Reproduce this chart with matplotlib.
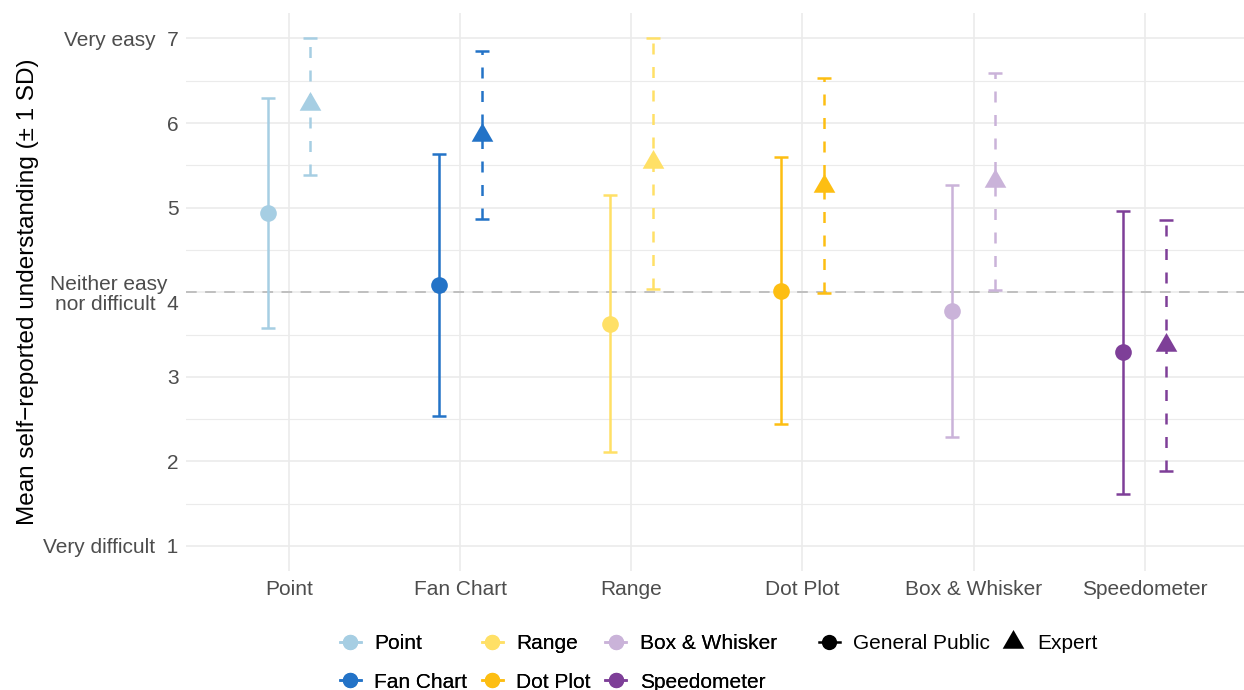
import numpy as np
import matplotlib
matplotlib.use("Agg")
import matplotlib.pyplot as plt
from matplotlib.lines import Line2D

# Mean self-reported understanding (1-7 scale) and SD per visualisation type
categories = ["Point", "Fan Chart", "Range", "Dot Plot", "Box & Whisker", "Speedometer"]
public_mean = [4.94, 4.09, 3.63, 4.02, 3.78, 3.29]
public_sd = [1.36, 1.55, 1.52, 1.58, 1.49, 1.67]
expert_mean = [6.23, 5.86, 5.54, 5.26, 5.31, 3.37]
expert_sd = [0.84, 0.99, 1.50, 1.27, 1.28, 1.48]
colors = ["#A6CEE3", "#2373C7", "#FFE066", "#FDBE12", "#CAB3D9", "#7E3F98"]
groups = ["General Public", "Expert"]

y_ticks = [1, 2, 3, 4, 5, 6, 7]
y_labels = ["Very difficult  1", "2", "3", "Neither easy  \nnor difficult  4", "5", "6", "Very easy  7"]

plt.rcParams["font.family"] = ["Liberation Sans", "DejaVu Sans"]

fig = plt.figure(figsize=(12.44, 6.90), dpi=100)
ax = fig.add_axes([0.1498, 0.172, 0.853, 0.809])

x = np.arange(1, len(categories) + 1)
dodge = 0.125
lw = 1.8
dash = (0, (4.4, 5.0))

# equilateral triangle centred on its centroid
tri = [(0, 0.577), (-0.5, -0.2887), (0.5, -0.2887), (0, 0.577)]


def clipped_err(mean, sd):
    mean = np.asarray(mean)
    sd = np.asarray(sd)
    upper = np.minimum(mean + sd, 7) - mean
    lower = mean - np.maximum(mean - sd, 1)
    return np.vstack([lower, upper])


pub_err = clipped_err(public_mean, public_sd)
exp_err = clipped_err(expert_mean, expert_sd)

for i, c in enumerate(colors):
    xp = x[i] - dodge
    xe = x[i] + dodge
    ax.errorbar([xp], [public_mean[i]], yerr=pub_err[:, i:i + 1], fmt="none",
                ecolor=c, elinewidth=lw, capsize=4.7, capthick=lw, zorder=3)
    ax.plot([xp], [public_mean[i]], marker="o", ms=12, color=c, mew=0,
            linestyle="None", zorder=4)
    eb = ax.errorbar([xe], [expert_mean[i]], yerr=exp_err[:, i:i + 1], fmt="none",
                     ecolor=c, elinewidth=lw, capsize=4.7, capthick=lw, zorder=3)
    eb[2][0].set_linestyle(dash)
    ax.plot([xe], [expert_mean[i]], marker=tri, ms=18, color=c, mew=0,
            linestyle="None", zorder=4)

# reference line at the neutral midpoint
ax.axhline(4, color="#B3B3B3", lw=1.1, linestyle=(0, (7, 5.5)), zorder=2)

ax.set_xlim(0.4, 6.6)
ax.set_ylim(0.7, 7.3)
ax.set_xticks(x)
ax.set_xticklabels(categories)
ax.set_yticks(y_ticks)
ax.set_yticklabels(y_labels, linespacing=1.05, multialignment="right")
ax.set_yticks(np.arange(1.5, 7, 1), minor=True)

ax.grid(which="major", color="#EBEBEB", lw=1.2, zorder=0)
ax.grid(which="minor", axis="y", color="#EBEBEB", lw=0.8, zorder=0)
ax.set_axisbelow(True)
for s in ax.spines.values():
    s.set_visible(False)
ax.tick_params(which="both", length=0)
ax.tick_params(axis="y", labelsize=15, labelcolor="#4D4D4D", pad=5.5)
ax.tick_params(axis="x", labelsize=15, labelcolor="#4D4D4D", pad=6)

ax.set_ylabel("Mean self\u2212reported understanding (\u00b1 1 SD)", fontsize=17.5,
              color="black", labelpad=3)

# colour legend (type of visualisation)
color_handles = [Line2D([0], [0], color=c, lw=lw, marker="o", ms=11, mew=0)
                 for c in colors]
leg1 = fig.legend(color_handles, categories, loc="upper left",
                  bbox_to_anchor=(340 / 1244, 1 - 634 / 690), ncol=3, frameon=False,
                  fontsize=15, handlelength=1.0, handletextpad=0.65,
                  columnspacing=0.7, labelspacing=0.94, borderpad=0, borderaxespad=0)

# shape legend (respondent group)
shape_handles = [Line2D([0], [0], color="black", lw=lw, marker="o", ms=11, mew=0),
                 Line2D([0], [0], color="black", lw=0, marker=tri, ms=18, mew=0)]
leg2 = fig.legend(shape_handles, groups, loc="upper left",
                  bbox_to_anchor=(819 / 1244, 1 - 634 / 690), ncol=2, frameon=False,
                  fontsize=15, handlelength=1.0, handletextpad=0.65,
                  columnspacing=0.6, borderpad=0, borderaxespad=0)
fig.add_artist(leg1)

fig.savefig("out.png", dpi=100, facecolor="white")
